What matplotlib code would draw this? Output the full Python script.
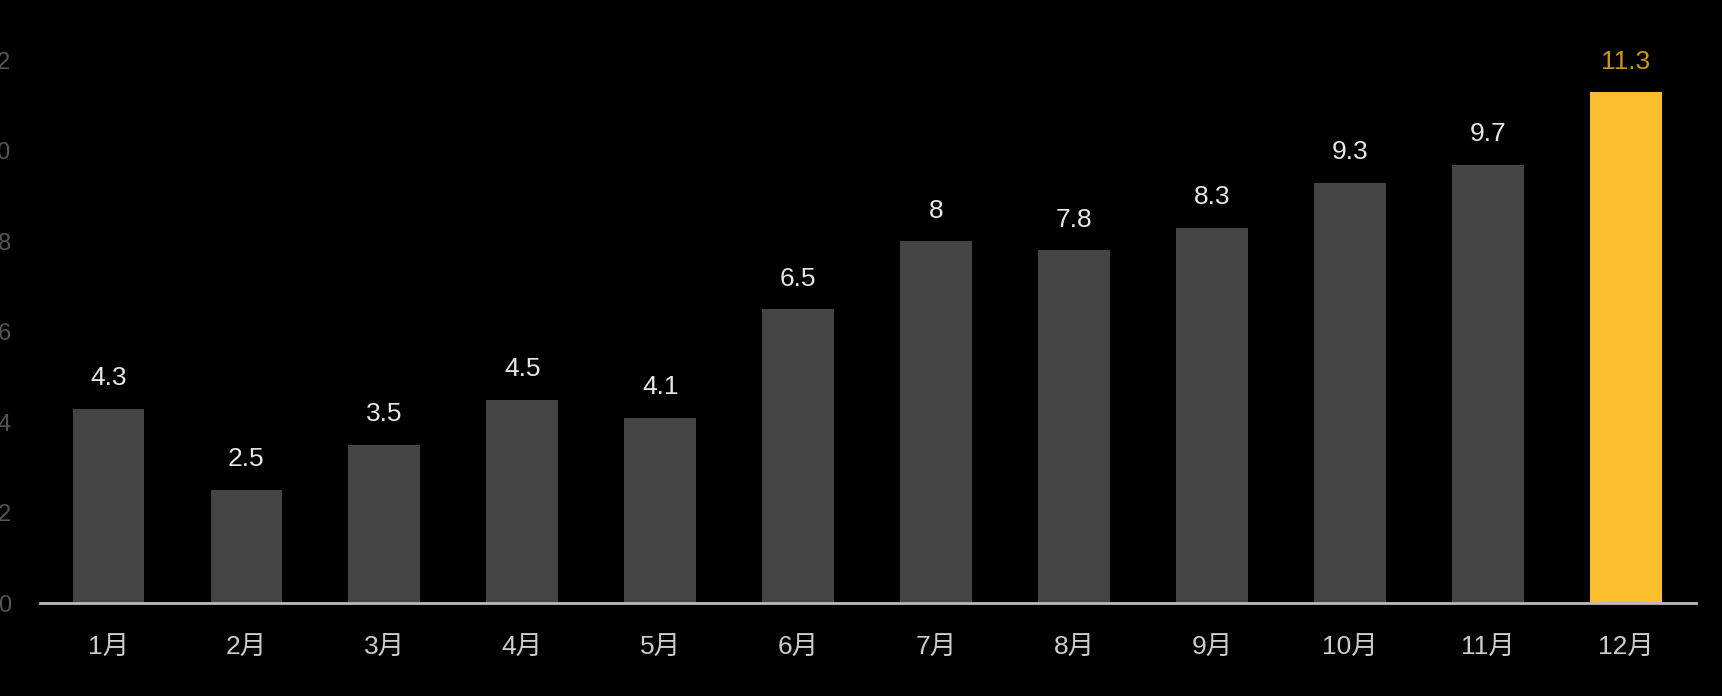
import matplotlib
matplotlib.use("Agg")
from matplotlib import pyplot as plt
import numpy as np

# digits in a Helvetica-like face, 月 falls back to the CJK font
plt.rcParams['font.family'] = ['Liberation Sans', 'Noto Sans CJK SC', 'DejaVu Sans']

months = ['1月', '2月', '3月', '4月', '5月', '6月', '7月', '8月', '9月', '10月', '11月', '12月']
values = [4.3, 2.5, 3.5, 4.5, 4.1, 6.5, 8, 7.8, 8.3, 9.3, 9.7, 11.3]
y_ticks = [0, 2, 4, 6, 8, 10, 12]

bar_grey = '#444444'
highlight = '#FBBF2D'

fig = plt.figure(figsize=(17.22, 6.96), dpi=100, facecolor='black')
ax = fig.add_axes([0.0232, 0.1336, 0.9617, 0.8664])
ax.set_facecolor('black')

x = np.arange(len(months))
colors = [bar_grey] * (len(values) - 1) + [highlight]
ax.bar(x, values, width=0.52, color=colors, zorder=2)

# value labels
for i, v in enumerate(values):
    label = '{:g}'.format(v)
    col = '#C9961F' if i == len(values) - 1 else '#E6E6E6'
    ax.annotate(label, (x[i], v), xytext=(0, 22), textcoords='offset points',
                ha='center', va='center', fontsize=19, color=col)

ax.set_xlim(-0.497, 11.51)
ax.set_ylim(0, 13.34)
ax.set_xticks(x)
ax.set_xticklabels(months)
ax.set_yticks(y_ticks)

for s in ['top', 'right', 'left']:
    ax.spines[s].set_visible(False)
ax.spines['bottom'].set_color('#BBBBBB')
ax.spines['bottom'].set_linewidth(2)
ax.spines['bottom'].set_zorder(3)

ax.tick_params(axis='x', length=0, pad=24, labelsize=19, labelcolor='#CCCCCC')
ax.tick_params(axis='y', length=0, pad=21, labelsize=17, labelcolor='#555555')

fig.savefig('out.png', dpi=100, facecolor='black')
